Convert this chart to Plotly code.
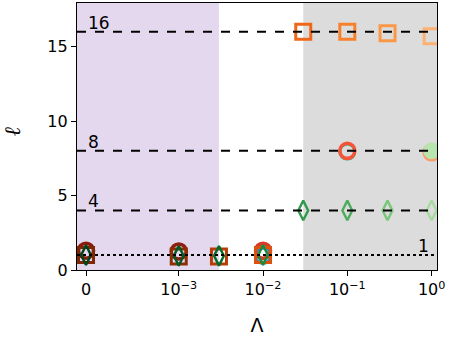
"""
Scaling of ell with Lambda, symlog-like x axis.
"""

# %% ---- Requirements and constants ------------------------
import numpy as np
import plotly.graph_objects as go

lam = [0, 1e-3, 3e-3, 1e-2, 3e-2, 1e-1, 3e-1, 1]

ell_square = [1.0, 0.9, 0.9, 1.0, 16.0, 16.0, 15.9, 15.7]
ell_diamond = [1.0, 0.95, 0.95, 1.0, 4.0, 4.0, 4.0, 4.0]
ell_circle_red = [1.3, 1.25, None, 1.3, None, 8.0, None, 7.9]
ell_circle_green = [None, None, None, 1.25, None, 7.95, None, None]
ell_circle_green_top = [None, None, None, None, None, None, None, 8.0]
ell_circle_blue = [None, None, None, 0.95, None, None, None, None]

square_colors = ['#7f2704', '#8c2d04', '#b83c06', '#df500b',
                 '#f0671a', '#f8802c', '#fb9847', '#fdb273']
diamond_colors = ['#00441b', '#005a24', '#006d2c', '#1b8a3f',
                  '#2e9a4a', '#4bad5c', '#78c679', '#a6db9f']
circle_red_colors = ['#8b1a0c', '#8e1f10', '#c0301c', '#d93a24',
                     '#e84a30', '#f4553a', '#f98a6c', '#fb9a6a']
circle_green_colors = ['#2ca25f'] * 8
circle_green_top_colors = ['#b8e4ae'] * 8
circle_blue_colors = ['#3b8bd0'] * 8

ref_levels = [16, 8, 4]
ref_labels = ['16', '8', '4']

xtick_vals = [0, 1e-3, 1e-2, 1e-1, 1]
xtick_text = ['0', '10<sup>−3</sup>', '10<sup>−2</sup>', '10<sup>−1</sup>', '10<sup>0</sup>']


# %% ---- Function and class ------------------------
def pos(v):
    # symlog-ish mapping: 0 sits 1.1 decades left of 1e-3
    v = np.asarray(v, dtype=float)
    out = np.zeros_like(v)
    nz = v > 0
    out[nz] = np.log10(v[nz]) + 4.1
    return out


def keep(xs, ys, cs):
    sel = [(x, y, c) for x, y, c in zip(xs, ys, cs) if y is not None]
    return [s[0] for s in sel], [s[1] for s in sel], [s[2] for s in sel]


X0, X1 = -0.107, 4.164

# %% ---- Play ground ------------------------
fig = go.Figure()

# shaded regimes
fig.add_shape(type='rect', xref='x', yref='paper', x0=X0, x1=float(pos([3e-3])[0]),
              y0=0, y1=1, fillcolor='#e4d8ee', line_width=0, layer='below')
fig.add_shape(type='rect', xref='x', yref='paper', x0=float(pos([3e-2])[0]), x1=X1,
              y0=0, y1=1, fillcolor='#dcdcdc', line_width=0, layer='below')

# reference lines
for lv, lb in zip(ref_levels, ref_labels):
    fig.add_shape(type='line', xref='x', yref='y', x0=X0, x1=X1, y0=lv, y1=lv,
                  line=dict(color='black', width=2, dash='dash'))
    fig.add_annotation(x=0.0, y=lv, xref='x', yref='y', text=lb, showarrow=False,
                       xanchor='left', yanchor='bottom', yshift=-3,
                       font=dict(size=17, color='black'))
fig.add_shape(type='line', xref='x', yref='y', x0=X0, x1=X1, y0=1, y1=1,
              line=dict(color='black', width=2, dash='dot'))
fig.add_annotation(x=3.92, y=1, xref='x', yref='y', text='1', showarrow=False,
                   xanchor='left', yanchor='bottom', yshift=-3,
                   font=dict(size=17, color='black'))

# y label drawn as a free annotation so it can sit near the edge
fig.add_annotation(x=-0.18, y=0.52, xref='paper', yref='paper', text='<i>ℓ</i>',
                   showarrow=False, xanchor='center', yanchor='middle', textangle=-90,
                   font=dict(family='DejaVu Serif', size=22, color='black'))

# markers
series = [
    (ell_circle_green, circle_green_colors, 'circle-open', 15, 3),
    (ell_circle_blue, circle_blue_colors, 'circle-open', 15, 3),
    (ell_circle_red, circle_red_colors, 'circle-open', 15, 3.5),
    (ell_circle_green_top, circle_green_top_colors, 'circle', 16, 1),
    (ell_square, square_colors, 'square-open', 15, 3),
    (ell_diamond, diamond_colors, 'diamond-tall-open', 14, 2.4),
]
for ys, cs, sym, sz, lw in series:
    xs, yv, cv = keep(lam, ys, cs)
    fig.add_trace(go.Scatter(
        x=pos(xs), y=yv, mode='markers', showlegend=False,
        marker=dict(symbol=sym, size=sz, color=cv, line=dict(width=lw, color=cv))))

axis_font = dict(family='DejaVu Sans', size=16, color='black')
fig.update_xaxes(range=[X0, X1], tickvals=pos(xtick_vals), ticktext=xtick_text,
                 ticks='outside', ticklen=5, tickwidth=1.2, tickcolor='black',
                 showline=True, linecolor='black', linewidth=1.2, mirror=True,
                 showgrid=False, zeroline=False, tickfont=axis_font,
                 title=dict(text='Λ', font=dict(family='DejaVu Sans', size=19, color='black'),
                            standoff=20))
fig.update_yaxes(range=[0, 17.93], tickvals=[0, 5, 10, 15],
                 ticks='outside', ticklen=5, tickwidth=1.2, tickcolor='black',
                 showline=True, linecolor='black', linewidth=1.2, mirror=True,
                 showgrid=False, zeroline=False, tickfont=axis_font)
fig.update_layout(width=453, height=344, plot_bgcolor='white', paper_bgcolor='white',
                  margin=dict(l=77, r=16, t=3, b=74), font=axis_font)

fig.write_html("out.html", config={'displayModeBar': False},
               post_script="document.body.style.margin='0px';")
